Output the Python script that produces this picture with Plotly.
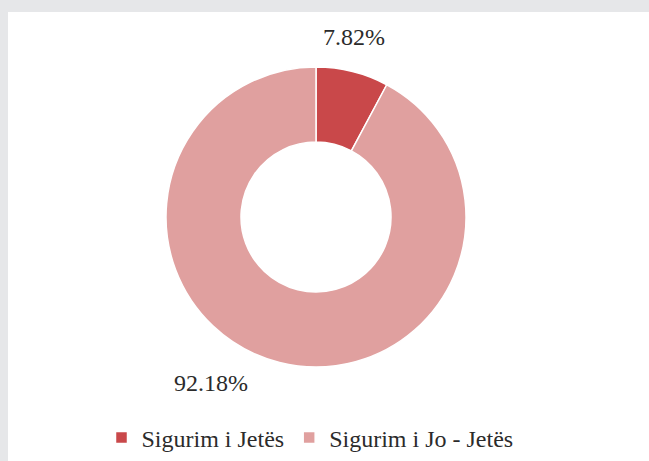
import plotly.graph_objects as go

labels = ["Sigurim i Jetës", "Sigurim i Jo - Jetës"]
values = [7.82, 92.18]
colors = ["#C9484A", "#E0A09F"]

W, H = 649, 461
FONT = "Liberation Serif"

cx, cy, r = 316, 217, 150

fig = go.Figure(go.Pie(
    labels=labels,
    values=values,
    hole=0.5,
    sort=False,
    direction="clockwise",
    rotation=0,
    textinfo="none",
    hoverinfo="label+percent",
    marker=dict(colors=colors, line=dict(color="white", width=1.5)),
    domain=dict(x=[(cx - r) / W, (cx + r) / W], y=[1 - (cy + r) / H, 1 - (cy - r) / H]),
))

label_pos = [(354, 37), (211, 383)]
annotations = []
for v, (px, py) in zip(values, label_pos):
    annotations.append(dict(
        text=f"{v:.2f}%", x=px / W, y=1 - py / H, xref="paper", yref="paper",
        showarrow=False, xanchor="center", yanchor="middle",
        font=dict(family=FONT, size=24, color="#2b2b2b"),
    ))

fig.update_layout(
    width=W, height=H,
    margin=dict(l=0, r=0, t=0, b=0),
    paper_bgcolor="white",
    plot_bgcolor="white",
    showlegend=True,
    legend=dict(
        orientation="h", x=310 / W, xanchor="center", y=1 - 438 / H, yanchor="middle",
        font=dict(family=FONT, size=24, color="#2b2b2b"),
        itemclick=False, itemdoubleclick=False,
    ),
    annotations=annotations,
    shapes=[
        dict(type="rect", xref="paper", yref="paper", x0=0, x1=1, y0=1 - 12 / H, y1=1,
             fillcolor="#E6E7E9", line=dict(width=0), layer="below"),
        dict(type="rect", xref="paper", yref="paper", x0=0, x1=8 / W, y0=0, y1=1,
             fillcolor="#E6E7E9", line=dict(width=0), layer="below"),
    ],
)

fig.write_html("out.html", config={"displayModeBar": False},
               post_script="document.body.style.margin='0';document.body.style.overflow='hidden';")
